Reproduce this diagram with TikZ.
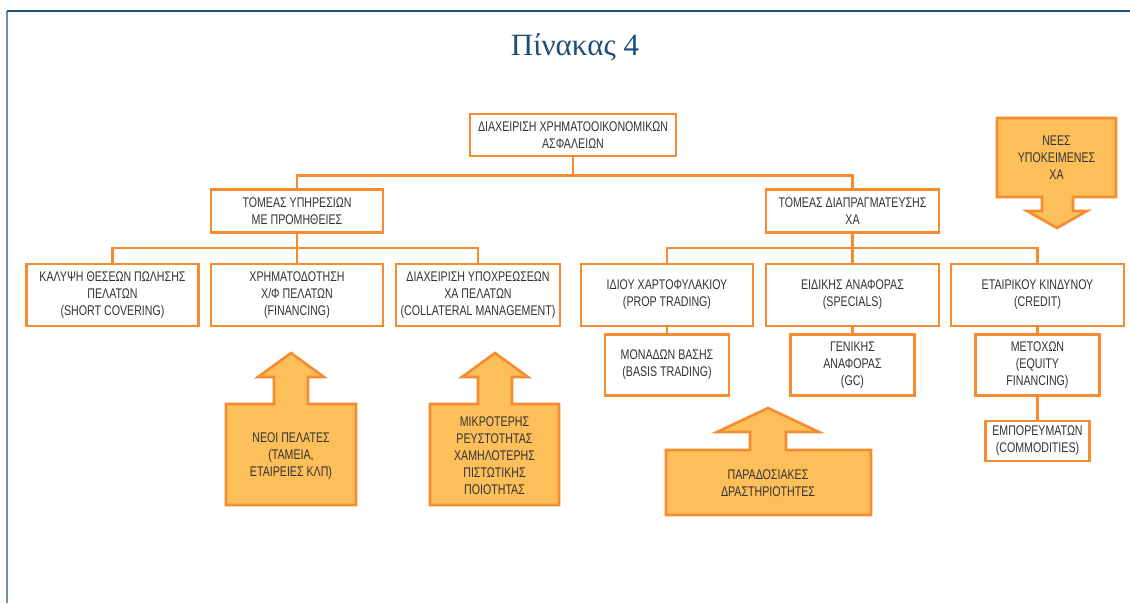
\documentclass[tikz,border=0pt]{standalone}
\usepackage{fontspec}
\setmainfont{Liberation Serif}
\newfontfamily\boxfont[FakeStretch=0.76]{Liberation Sans}
\usetikzlibrary{calc}
\definecolor{orng}{HTML}{F68B2F}
\definecolor{afill}{HTML}{FCBF5A}
\definecolor{titleblue}{HTML}{1F4E79}
\definecolor{txt}{HTML}{333333}
\definecolor{frametop}{HTML}{1F4E79}
\definecolor{frameleft}{HTML}{7090B0}
\begin{document}
\begin{tikzpicture}[x=1pt,y=-1pt,
  box/.style={draw=orng, line width=2.6pt, fill=white, inner sep=0pt, align=center,
    font=\boxfont\fontsize{14}{17}\selectfont, text=txt},
  conn/.style={draw=orng, line width=2.4pt},
  arrowshape/.style={draw=orng, line width=2.6pt, fill=afill, line join=miter},
  atext/.style={align=center, inner sep=0pt, font=\boxfont\fontsize{14}{17}\selectfont, text=txt}]
\useasboundingbox (0,0) rectangle (1130,603);
% frame
\draw[frameleft, line width=1.2pt] (7,11) -- (7,603);
\draw[frametop, line width=1.8pt] (7,11) -- (1130,11);
% title
\node[font=\fontsize{31}{36}\selectfont, text=titleblue] (title) at (575,47) {Πίνακας 4};
% boxes
\node[box, minimum width=206, minimum height=42] (root) at (573,135) {ΔΙΑΧΕΙΡΙΣΗ ΧΡΗΜΑΤΟΟΙΚΟΝΟΜΙΚΩΝ\\ΑΣΦΑΛΕΙΩΝ};
\node[box, minimum width=172, minimum height=43] (lm) at (297,211) {ΤΟΜΕΑΣ ΥΠΗΡΕΣΙΩΝ\\ΜΕ ΠΡΟΜΗΘΕΙΕΣ};
\node[box, minimum width=173, minimum height=43] (rm) at (852.5,211) {ΤΟΜΕΑΣ ΔΙΑΠΡΑΓΜΑΤΕΥΣΗΣ\\ΧΑ};
\node[box, minimum width=172, minimum height=62] (l1) at (112.5,295) {ΚΑΛΥΨΗ ΘΕΣΕΩΝ ΠΩΛΗΣΗΣ\\ΠΕΛΑΤΩΝ\\(SHORT COVERING)};
\node[box, minimum width=172, minimum height=62] (l2) at (297,295) {ΧΡΗΜΑΤΟΔΟΤΗΣΗ\\Χ/Φ ΠΕΛΑΤΩΝ\\(FINANCING)};
\node[box, minimum width=164, minimum height=62] (l3) at (478,295) {ΔΙΑΧΕΙΡΙΣΗ ΥΠΟΧΡΕΩΣΕΩΝ\\ΧΑ ΠΕΛΑΤΩΝ\\(COLLATERAL MANAGEMENT)};
\node[box, minimum width=172, minimum height=62] (r1) at (667,295) {ΙΔΙΟΥ ΧΑΡΤΟΦΥΛΑΚΙΟΥ\\(PROP TRADING)};
\node[box, minimum width=173, minimum height=62] (r2) at (852.5,295) {ΕΙΔΙΚΗΣ ΑΝΑΦΟΡΑΣ\\(SPECIALS)};
\node[box, minimum width=173, minimum height=62] (r3) at (1037.5,295) {ΕΤΑΙΡΙΚΟΥ ΚΙΝΔΥΝΟΥ\\(CREDIT)};
\node[box, minimum width=124, minimum height=61] (c1) at (667,365) {ΜΟΝΑΔΩΝ ΒΑΣΗΣ\\(BASIS TRADING)};
\node[box, minimum width=124, minimum height=61] (c2) at (852.5,365) {ΓΕΝΙΚΗΣ\\ΑΝΑΦΟΡΑΣ\\(GC)};
\node[box, minimum width=124, minimum height=61] (c3) at (1037.5,365) {ΜΕΤΟΧΩΝ\\(EQUITY\\FINANCING)};
\node[box, minimum width=104, minimum height=40] (c4) at (1037.5,441) {ΕΜΠΟΡΕΥΜΑΤΩΝ\\(COMMODITIES)};
% connectors
\draw[conn] (root.south) -- ++(0,18) -| (lm.north);
\draw[conn] (root.south) -- ++(0,18) -| (rm.north);
\draw[conn] (lm.south) -- ++(0,14) -| (l1.north);
\draw[conn] (lm.south) -- (l2.north);
\draw[conn] (lm.south) -- ++(0,14) -| (l3.north);
\draw[conn] (rm.south) -- ++(0,14) -| (r1.north);
\draw[conn] (rm.south) -- (r2.north);
\draw[conn] (rm.south) -- ++(0,14) -| (r3.north);
\draw[conn] (r1.south) -- (c1.north);
\draw[conn] (r2.south) -- (c2.north);
\draw[conn] (r3.south) -- (c3.north);
\draw[conn] (c3.south) -- (c4.north);
% block arrows
\draw[arrowshape] (226,505) -- (226,404) -- (274,404) -- (274,377) -- (258,377) -- (291,353) -- (324,377) -- (308,377) -- (308,404) -- (356,404) -- (356,505) -- cycle;
\node[atext] (neoi) at (291,456) {ΝΕΟΙ ΠΕΛΑΤΕΣ\\(ΤΑΜΕΙΑ,\\ΕΤΑΙΡΕΙΕΣ ΚΛΠ)};
\draw[arrowshape] (430,505) -- (430,404) -- (478,404) -- (478,377) -- (462,377) -- (495,353) -- (528,377) -- (512,377) -- (512,404) -- (559,404) -- (559,505) -- cycle;
\node[atext] (mikro) at (494.5,456) {ΜΙΚΡΟΤΕΡΗΣ\\ΡΕΥΣΤΟΤΗΤΑΣ\\ΧΑΜΗΛΟΤΕΡΗΣ\\ΠΙΣΤΩΤΙΚΗΣ\\ΠΟΙΟΤΗΤΑΣ};
\draw[arrowshape] (666,515) -- (666,450) -- (750,450) -- (750,432) -- (717,432) -- (768,408) -- (819,432) -- (786,432) -- (786,450) -- (871,450) -- (871,515) -- cycle;
\node[atext] (parad) at (768,483) {ΠΑΡΑΔΟΣΙΑΚΕΣ\\ΔΡΑΣΤΗΡΙΟΤΗΤΕΣ};
\draw[arrowshape] (997,118) -- (997,197) -- (1042,197) -- (1042,211) -- (1027,211) -- (1057,228) -- (1087,211) -- (1073,211) -- (1073,197) -- (1116,197) -- (1116,118) -- cycle;
\node[atext] (nees) at (1056.5,158) {ΝΕΕΣ\\ΥΠΟΚΕΙΜΕΝΕΣ\\ΧΑ};
\end{tikzpicture}
\end{document}
